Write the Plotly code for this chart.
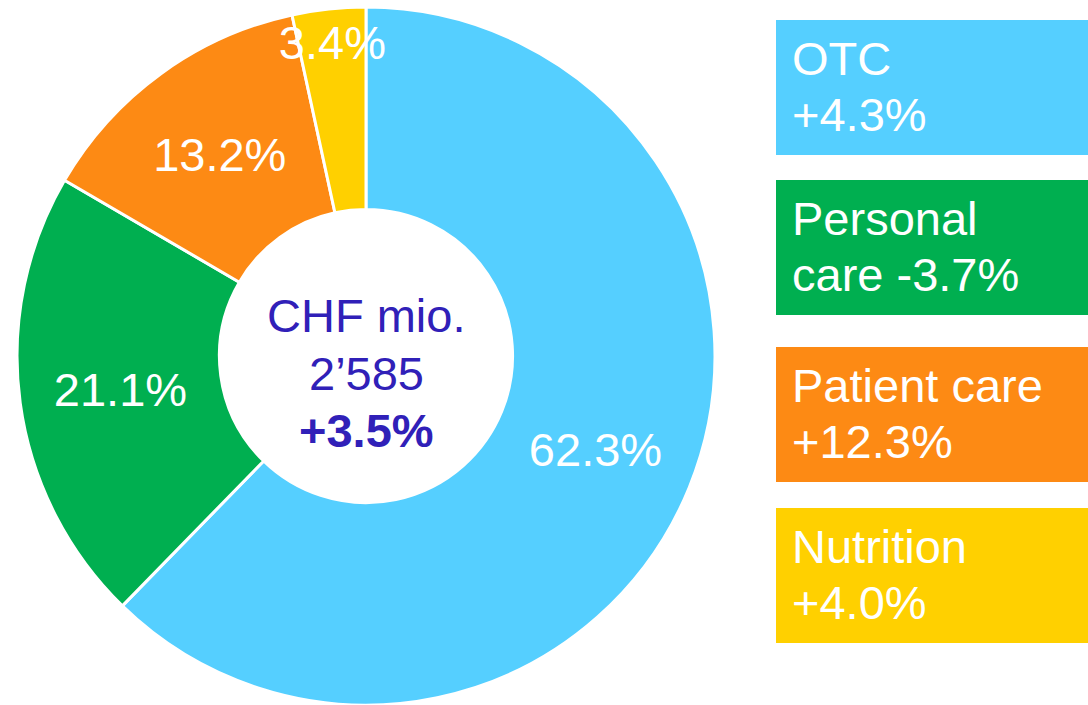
import plotly.graph_objects as go

# segment data
segments = ["OTC", "Personal care", "Patient care", "Nutrition"]
shares = [62.3, 21.1, 13.2, 3.4]
legend_lines = [
    ("OTC", "+4.3%"),
    ("Personal", "care -3.7%"),
    ("Patient care", "+12.3%"),
    ("Nutrition", "+4.0%"),
]
colors = ["#55CFFF", "#00AF50", "#FD8A14", "#FFD000"]

center_lines = ["CHF mio.", "2’585", "<b>+3.5%</b>"]

W, H = 1088, 705
FONT = "Liberation Sans, Arial, sans-serif"
FS = 47


def py(px):
    # pixel from top -> paper y
    return 1 - px / H


fig = go.Figure(
    go.Pie(
        labels=segments,
        values=shares,
        texttemplate="%{value:.1f}%",
        textposition="inside",
        insidetextorientation="horizontal",
        textfont={"size": FS, "color": "white", "family": FONT},
        marker={"colors": colors, "line": {"color": "white", "width": 3}},
        sort=False,
        direction="clockwise",
        rotation=0,
        hole=0.42,
        domain={"x": [16 / W, 716 / W], "y": [0, 0.99]},
        showlegend=False,
    )
)

# centre text, one annotation per line
for baseline, line in zip([332, 390, 447], center_lines):
    fig.add_annotation(
        text=line,
        x=366 / W,
        y=py(baseline - 16.5),
        xref="paper",
        yref="paper",
        xanchor="center",
        yanchor="middle",
        showarrow=False,
        font={"size": FS, "color": "#3020B8", "family": FONT},
    )

# legend boxes on the right
box_tops = [20, 180, 347, 508]
box_h = 135
for top, lines, color in zip(box_tops, legend_lines, colors):
    fig.add_shape(
        type="rect",
        xref="paper",
        yref="paper",
        x0=776 / W,
        x1=1,
        y0=py(top + box_h),
        y1=py(top),
        fillcolor=color,
        line={"width": 0},
        layer="below",
    )
    for offset, line in zip([55, 111], lines):
        fig.add_annotation(
            text=line,
            x=790 / W,
            y=py(top + offset - 16.5),
            xref="paper",
            yref="paper",
            xanchor="left",
            yanchor="middle",
            showarrow=False,
            font={"size": FS, "color": "white", "family": FONT},
        )

fig.update_layout(
    width=W,
    height=H,
    margin={"l": 0, "r": 0, "t": 0, "b": 0},
    paper_bgcolor="white",
    plot_bgcolor="white",
    uniformtext={"minsize": FS, "mode": "show"},
)

fig.write_html(
    "out.html",
    config={"displayModeBar": False},
    post_script="document.body.style.margin = '0';",
)
